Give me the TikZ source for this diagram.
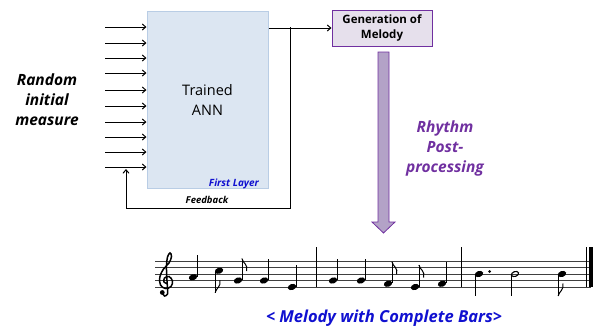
\documentclass[tikz,border=0pt]{standalone}
\usepackage{fontspec}
\setmainfont{Open Sans}
\usepackage{tikz}
\usetikzlibrary{positioning,arrows.meta}
\usepackage{xcolor}

\definecolor{annfill}{HTML}{DCE6F2}
\definecolor{annline}{HTML}{B9CDE5}
\definecolor{melpurple}{HTML}{7030A0}
\definecolor{melfill}{HTML}{E6E0EC}
\definecolor{shaftfill}{HTML}{B3A2C7}
\definecolor{capblue}{HTML}{1010D0}

% staff: bottom line E4 at 287, half a space = 3.25
\newcommand\nhead[2]{\fill[rotate around={20:(#1,#2)}] (#1,#2) ellipse (4.3 and 3);}
\newcommand\nopen[2]{\draw[line width=1.1pt,rotate around={20:(#1,#2)}] (#1,#2) ellipse (3.7 and 2.4);}
\newcommand\stemup[2]{\draw[notestem] ({#1+3.9},{#2-0.5}) -- ({#1+3.9},{#2-22});}
\newcommand\stemdn[2]{\draw[notestem] ({#1-3.9},{#2+0.5}) -- ({#1-3.9},{#2+22});}
\newcommand\flagup[2]{\draw[noteflag] ({#1+3.9},{#2-22}) .. controls ({#1+5},{#2-17}) and ({#1+10.5},{#2-16}) .. ({#1+8.5},{#2-9.5});}
\newcommand\flagdn[2]{\draw[noteflag] ({#1-3.9},{#2+22}) .. controls ({#1-2.8},{#2+17}) and ({#1+2.5},{#2+16}) .. ({#1+0.8},{#2+9.5});}

\begin{document}
\begin{tikzpicture}[x=1pt,y=-1pt,
  inarrow/.style={line width=1pt,-{Straight Barb[length=3.5pt,width=6pt]}},
  loopline/.style={line width=1pt},
  notestem/.style={line width=0.8pt},
  noteflag/.style={line width=1pt},
  staffline/.style={black!75,line width=0.6pt}]
\useasboundingbox (0,0) rectangle (597,327);

% network
\node[draw=annline,fill=annfill,line width=1pt,minimum width=121pt,minimum height=177pt,
  inner sep=0pt] (ann) at (207.5,99.5) {};
\node[font=\fontsize{14.5}{20}\selectfont,align=center] (anntext) at (207.5,100) {Trained\\ANN};
\node[font=\fontsize{10}{12}\bfseries\itshape\selectfont,text=capblue,anchor=south east]
  (first) at ([xshift=-6pt,yshift=-4pt]ann.south east) {First Layer};
\node[font=\fontsize{15.5}{20}\bfseries\itshape\selectfont,align=center] (random) at (47,100)
  {Random\\initial\\measure};

\foreach \i/\y in {1/27,2/43,3/58,4/73,5/90,6/106,7/122,8/137,9/152,10/167}
  \coordinate (in\i) at (105,\y);
\foreach \i in {1,...,10}
  \draw[inarrow] (in\i) -- (in\i -| ann.west);

\node[draw=melpurple,fill=melfill,line width=1pt,minimum width=100pt,minimum height=36pt,
  inner sep=1pt,align=center,font=\fontsize{11.5}{15}\bfseries\selectfont] (gen) at (382,28)
  {Generation of\\Melody};
\coordinate (out) at (ann.east |- gen.west);
\draw[inarrow] (out) -- (gen.west);

% feedback loop
\coordinate (fbtop) at (290,27);
\coordinate (fbbot) at (290,208);
\coordinate (fbleft) at (126,208);
\coordinate (fbend) at (126,169);
\draw[loopline,-{Straight Barb[length=3.5pt,width=6pt]}] (fbtop) -- (fbbot) -- (fbleft) -- (fbend);
\node[font=\fontsize{9.5}{11}\bfseries\itshape\selectfont] (fb) at (207,200) {Feedback};

% post-processing arrow
\draw[melpurple,fill=shaftfill,line width=0.8pt]
  (378,52) -- (389,52) -- (389,222) -- (395,222) -- (383.5,233) -- (372,222) -- (378,222) -- cycle;
\node[font=\fontsize{15.5}{20}\bfseries\itshape\selectfont,text=melpurple,align=center]
  (rhythm) at (445,148) {Rhythm\\Post-\\processing};

% staff
\foreach \k in {0,...,4}
  \draw[staffline] (155,{287-6.5*\k}) -- (591,{287-6.5*\k});
\foreach \bx in {316,461,586}
  \draw[line width=0.8pt] (\bx,247) -- (\bx,287.3);
\fill (588.5,247) rectangle (593,287.3);
% treble clef
\draw[line width=1.5pt,line cap=round] plot[smooth,tension=0.6] coordinates {
  (162.5,293) (164.5,296) (167.5,294) (167.5,288) (166.8,278) (166.5,266) (167.5,257)
  (170,253) (171.5,256.5) (169,263) (163.5,269) (159.8,277) (160.5,285) (165.5,288.5)
  (171,286.5) (172.5,281) (169,276.5) (164.5,278) (164,282) (167,283.5)};
\fill (162.3,292.5) circle (2.4);

% bar 1
\nhead{193}{277.25}\stemup{193}{277.25}
\nhead{219}{270.75}\stemdn{219}{270.75}\flagdn{219}{270.75}
\nhead{238}{280.5}\stemup{238}{280.5}\flagup{238}{280.5}
\nhead{264}{280.5}\stemup{264}{280.5}
\nhead{292}{287}\stemup{292}{287}
% bar 2
\nhead{333}{280.5}\stemup{333}{280.5}
\nhead{361}{280.5}\stemup{361}{280.5}
\nhead{388}{283.75}\stemup{388}{283.75}\flagup{388}{283.75}
\nhead{415}{287}\stemup{415}{287}\flagup{415}{287}
\nhead{442}{283.75}\stemup{442}{283.75}
% bar 3
\nhead{479}{274}\stemdn{479}{274}
\fill (489.5,271.5) circle (1.5);
\nopen{515}{274}\draw[notestem] (511.2,274.5) -- (511.2,296);
\nhead{562}{274}\stemdn{562}{274}\flagdn{562}{274}

\node[font=\fontsize{16.5}{20}\bfseries\itshape\selectfont,text=capblue] (caption) at (384,318)
  {< Melody with Complete Bars>};
\end{tikzpicture}
\end{document}
